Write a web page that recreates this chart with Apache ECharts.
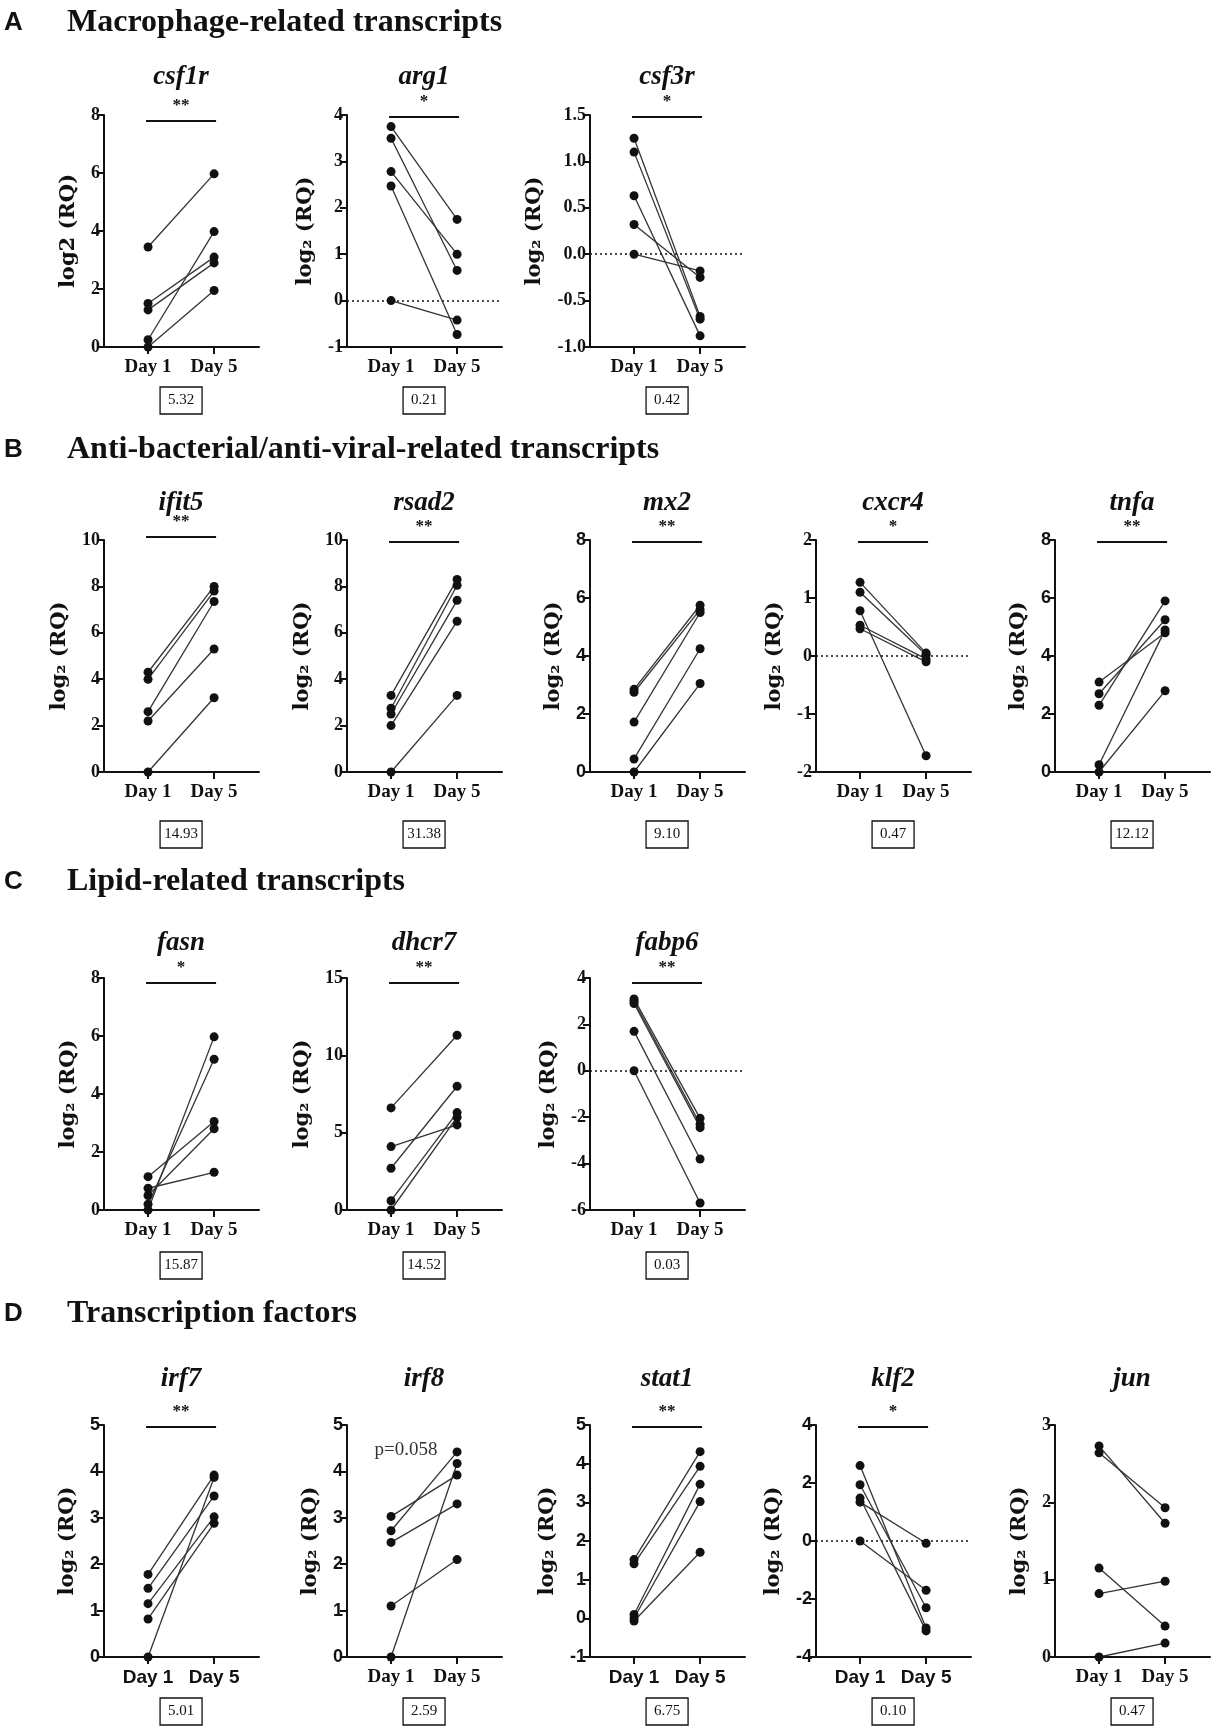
<!DOCTYPE html>
<html>
<head>
<meta charset="utf-8">
<script src="https://cdn.jsdelivr.net/npm/echarts@6/dist/echarts.min.js"></script>
<style>
  html, body { margin: 0; padding: 0; background: #fff; }
  #main { width: 1222px; height: 1727px; }
</style>
</head>
<body>
<div id="main"></div>
<script>
// ---- data (paired: index k = same fish) ----
const dayLabels = ['Day 1', 'Day 5'];
const sectionLetters = ['A', 'B', 'C', 'D'];
const sectionTitles = [
  'Macrophage-related transcripts',
  'Anti-bacterial/anti-viral-related transcripts',
  'Lipid-related transcripts',
  'Transcription factors'
];

const csf1rDay1 = [3.45, 1.5, 1.28, 0.25, 0];
const csf1rDay5 = [5.97, 3.1, 2.9, 3.98, 1.95];
const arg1Day1 = [3.75, 3.5, 2.78, 2.47, 0];
const arg1Day5 = [1.75, 0.65, 1.0, -0.73, -0.42];
const csf3rDay1 = [1.25, 1.1, 0.63, 0.32, 0];
const csf3rDay5 = [-0.67, -0.7, -0.88, -0.25, -0.18];

const ifit5Day1 = [4.3, 4.0, 2.6, 2.2, 0];
const ifit5Day5 = [8.0, 7.8, 7.35, 5.3, 3.2];
const rsad2Day1 = [3.3, 2.75, 2.5, 2.0, 0];
const rsad2Day5 = [8.3, 8.05, 7.4, 6.5, 3.3];
const mx2Day1 = [2.85, 2.75, 1.72, 0.45, 0];
const mx2Day5 = [5.75, 5.6, 5.5, 4.25, 3.05];
const cxcr4Day1 = [1.27, 1.1, 0.78, 0.53, 0.47];
const cxcr4Day5 = [0.05, 0.02, -1.72, -0.05, -0.1];
const tnfaDay1 = [3.1, 2.7, 2.3, 0.25, 0];
const tnfaDay5 = [4.8, 5.25, 5.9, 4.9, 2.8];

const fasnDay1 = [0, 0.2, 1.15, 0.5, 0.75];
const fasnDay5 = [5.97, 5.2, 3.05, 2.8, 1.3];
const dhcr7Day1 = [6.6, 2.7, 4.1, 0.6, 0];
const dhcr7Day5 = [11.3, 8.0, 5.5, 6.3, 6.0];
const fabp6Day1 = [3.1, 3.0, 2.9, 1.7, 0];
const fabp6Day5 = [-2.05, -2.3, -2.45, -3.8, -5.7];

const irf7Day1 = [1.78, 1.48, 1.15, 0.82, 0];
const irf7Day5 = [3.92, 3.47, 3.02, 2.88, 3.87];
const irf8Day1 = [3.03, 2.72, 2.47, 1.1, 0];
const irf8Day5 = [3.92, 4.42, 3.3, 2.1, 4.17];
const stat1Day1 = [1.52, 1.41, 0.1, 0.01, -0.07];
const stat1Day5 = [4.31, 3.93, 3.47, 3.02, 1.71];
const klf2Day1 = [2.6, 1.94, 1.48, 1.34, 0];
const klf2Day5 = [-3.0, -2.3, -3.1, -0.08, -1.7];
const junDay1 = [2.73, 2.64, 1.15, 0.82, 0];
const junDay5 = [1.73, 1.93, 0.4, 0.98, 0.18];

const geneNames = ['csf1r', 'arg1', 'csf3r', 'ifit5', 'rsad2', 'mx2', 'cxcr4', 'tnfa',
  'fasn', 'dhcr7', 'fabp6', 'irf7', 'irf8', 'stat1', 'klf2', 'jun'];
const day1Values = [csf1rDay1, arg1Day1, csf3rDay1, ifit5Day1, rsad2Day1, mx2Day1, cxcr4Day1, tnfaDay1,
  fasnDay1, dhcr7Day1, fabp6Day1, irf7Day1, irf8Day1, stat1Day1, klf2Day1, junDay1];
const day5Values = [csf1rDay5, arg1Day5, csf3rDay5, ifit5Day5, rsad2Day5, mx2Day5, cxcr4Day5, tnfaDay5,
  fasnDay5, dhcr7Day5, fabp6Day5, irf7Day5, irf8Day5, stat1Day5, klf2Day5, junDay5];
const significance = ['**', '*', '*', '**', '**', '**', '*', '**', '*', '**', '**', '**', 'p=0.058', '**', '*', ''];
const foldChange = [5.32, 0.21, 0.42, 14.93, 31.38, 9.10, 0.47, 12.12, 15.87, 14.52, 0.03, 5.01, 2.59, 6.75, 0.10, 0.47];
const yMin = [0, -1, -1, 0, 0, 0, -2, 0, 0, 0, -6, 0, 0, -1, -4, 0];
const yMax = [8, 4, 1.5, 10, 10, 8, 2, 8, 8, 15, 4, 5, 5, 5, 4, 3];
const yStep = [2, 1, 0.5, 2, 2, 2, 1, 2, 2, 5, 2, 1, 1, 1, 2, 1];

// ---- layout ----
const SERIF = "'Liberation Serif', 'DejaVu Serif', serif";
const WIDE_SERIF = "'DejaVu Serif', 'Liberation Serif', serif";
const SANS = "'Liberation Sans', Arial, sans-serif";
const panelRow = [0, 0, 0, 1, 1, 1, 1, 1, 2, 2, 2, 3, 3, 3, 3, 3];
const panelCol = [0, 1, 2, 0, 1, 2, 3, 4, 0, 1, 2, 0, 1, 2, 3, 4];
const colX = [104, 347, 590, 816, 1055];
const rowTop = [115, 540, 978, 1425];
const headingY = [23, 450, 882, 1314];
const titleUp = [38, 37, 35, 46];
const boxDown = [53, 62, 55, 54];
const plotW = 155, plotH = 232;
const zeroLine = ['arg1', 'csf3r', 'cxcr4', 'fabp6', 'klf2'];
const sansTicks = ['mx2', 'tnfa', 'irf7', 'irf8', 'stat1', 'klf2'];
const sansDays = ['irf7', 'stat1', 'klf2'];
const barDy = { csf1r: 6, ifit5: -3, fasn: 5, dhcr7: 5, fabp6: 5 };
const tickSize = 18;

const measure = document.createElement('canvas').getContext('2d');
function textWidth(t, font) { measure.font = font; return measure.measureText(t).width; }
function tickText(i, v) { return yStep[i] < 1 ? v.toFixed(1) : String(v); }

let mychart = echarts.init(document.getElementById('main'));

let grids = [], xAxes = [], yAxes = [], series = [];
geneNames.forEach((g, i) => {
  const r = panelRow[i], c = panelCol[i];
  const tickFam = sansTicks.includes(g) ? SANS : SERIF;
  const dayFam = sansDays.includes(g) ? SANS : SERIF;
  let maxW = 0;
  for (let v = yMin[i]; v <= yMax[i] + 1e-9; v += yStep[i]) {
    maxW = Math.max(maxW, textWidth(tickText(i, v), 'bold ' + tickSize + 'px ' + tickFam));
  }
  grids.push({ left: colX[c], top: rowTop[r], width: plotW, height: plotH, containLabel: false });
  xAxes.push({
    gridIndex: i, type: 'value', min: -0.667, max: 1.68,
    axisLine: { show: true, onZero: false, lineStyle: { color: '#111', width: 2 } },
    axisTick: { show: true, customValues: [0, 1], length: 7, lineStyle: { color: '#111', width: 2 } },
    axisLabel: {
      show: true, customValues: [0, 1], margin: 11,
      formatter: v => dayLabels[Math.round(v)],
      color: '#111', fontSize: 19, fontWeight: 'bold', fontFamily: dayFam
    },
    splitLine: { show: false }
  });
  yAxes.push({
    gridIndex: i, type: 'value', min: yMin[i], max: yMax[i], interval: yStep[i],
    name: g === 'csf1r' ? 'log2 (RQ)' : 'log\u2082 (RQ)',
    nameLocation: 'middle', nameGap: maxW + 16,
    nameTextStyle: { color: '#111', fontSize: 21, fontWeight: 'bold', fontFamily: WIDE_SERIF },
    axisLine: { show: true, onZero: false, lineStyle: { color: '#111', width: 2 } },
    axisTick: { show: true, length: 7, lineStyle: { color: '#111', width: 2 } },
    axisLabel: {
      margin: 4, color: '#111', fontSize: tickSize, fontWeight: 'bold', fontFamily: tickFam,
      formatter: v => tickText(i, v)
    },
    splitLine: { show: false }
  });
  day1Values[i].forEach((a, k) => {
    const s = {
      type: 'line', xAxisIndex: i, yAxisIndex: i,
      data: [[0, a], [1, day5Values[i][k]]],
      symbol: 'circle', symbolSize: 9, silent: true, animation: false,
      itemStyle: { color: '#111' },
      lineStyle: { color: '#333', width: 1.3 },
      z: 3
    };
    if (k === 0 && zeroLine.includes(g)) {
      s.markLine = {
        silent: true, symbol: 'none', label: { show: false }, animation: false,
        lineStyle: { color: '#111', type: [2, 3], width: 1.6 },
        data: [{ yAxis: 0 }]
      };
    }
    series.push(s);
  });
});

let option = {
  backgroundColor: '#fff',
  animation: false,
  grid: grids,
  xAxis: xAxes,
  yAxis: yAxes,
  series: series
};
mychart.setOption(option);

// annotations placed through the axes' own scales
let graphics = [];
sectionLetters.forEach((L, r) => {
  graphics.push({ type: 'text', x: 4, y: headingY[r], style: {
    text: L, fontSize: 26, fontWeight: 'bold', fontFamily: SANS, fill: '#111', verticalAlign: 'middle' } });
  graphics.push({ type: 'text', x: 67, y: headingY[r], style: {
    text: sectionTitles[r], fontSize: 32, fontWeight: 'bold', fontFamily: SERIF, fill: '#111', verticalAlign: 'middle' } });
});
geneNames.forEach((g, i) => {
  const r = panelRow[i];
  const p0 = mychart.convertToPixel({ gridIndex: i }, [0, yMax[i]]);
  const p1 = mychart.convertToPixel({ gridIndex: i }, [1, yMin[i]]);
  const mid = (p0[0] + p1[0]) / 2;
  const top = p0[1], bottom = p1[1];
  graphics.push({ type: 'text', x: mid, y: top - titleUp[r], style: {
    text: g, fontSize: 27, fontWeight: 'bold', fontStyle: 'italic', fontFamily: SERIF,
    fill: '#111', align: 'center', verticalAlign: 'middle' } });
  const sig = significance[i];
  if (sig.startsWith('p')) {
    graphics.push({ type: 'text', x: p0[0] + 15, y: top + 25, style: {
      text: sig, fontSize: 19, fontFamily: SERIF, fill: '#333', align: 'center', verticalAlign: 'middle' } });
  } else if (sig) {
    const by = top + (barDy[g] !== undefined ? barDy[g] : 2);
    graphics.push({ type: 'line', shape: { x1: p0[0] - 2, y1: by, x2: p1[0] + 2, y2: by },
      style: { stroke: '#111', lineWidth: 2.2 } });
    graphics.push({ type: 'text', x: mid, y: by - 15, style: {
      text: sig, fontSize: 17, fontWeight: 'bold', fontFamily: SERIF, fill: '#111',
      align: 'center', verticalAlign: 'middle' } });
  }
  const by2 = bottom + boxDown[r];
  graphics.push({ type: 'rect', shape: { x: mid - 21, y: by2 - 13, width: 42, height: 27 },
    style: { fill: '#fff', stroke: '#111', lineWidth: 1.3 } });
  graphics.push({ type: 'text', x: mid, y: by2 + 0.5, style: {
    text: foldChange[i].toFixed(2), fontSize: 15, fontFamily: SERIF, fill: '#111',
    align: 'center', verticalAlign: 'middle' } });
});
mychart.setOption({ graphic: graphics });
</script>
</body>
</html>
